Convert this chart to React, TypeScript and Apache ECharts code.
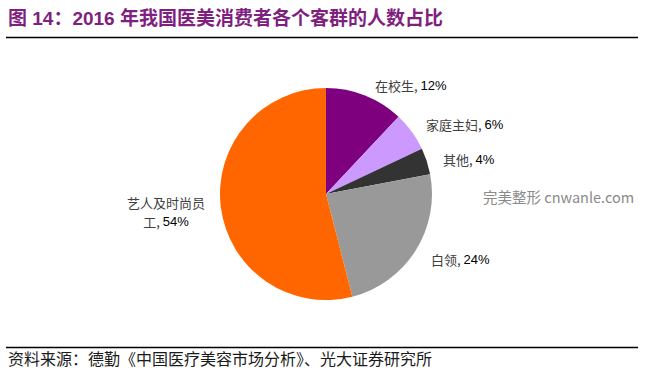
import React, { useEffect, useRef } from "react";
import * as echarts from "echarts";

const categories = ["在校生", "家庭主妇", "其他", "白领", "艺人及时尚员工"];
const values = [12, 6, 4, 24, 54];
const labelNames = ["在校生", "家庭主妇", "其他", "白领", "艺人及时尚员\n工"];
const colors = ["#7F007F", "#CC99FF", "#333333", "#999999", "#FF6600"];

const titleText = "图 14：2016 年我国医美消费者各个客群的人数占比";
const sourceText = "资料来源：德勤《中国医疗美容市场分析》、光大证券研究所";
const watermarkText = "完美整形 cnwanle.com";

// label placement (style, not data)
const labelPos: [number, number, string][] = [
  [375, 85, "left"],
  [426, 124, "left"],
  [443, 159, "left"],
  [431, 259, "left"],
  [166, 212, "center"],
];

export default function App() {
  const ref = useRef<HTMLDivElement>(null);
  useEffect(() => {
    document.body.style.margin = "0";
    const chart = echarts.init(ref.current!, null, { renderer: "svg" });
    const option: any = {
      animation: false,
      backgroundColor: "#ffffff",
      graphic: [
        {
          type: "text",
          left: 8,
          top: 9,
          style: {
            text: titleText,
            fill: "#7F1F7F",
            font: "bold 19px 'Liberation Sans', 'Noto Sans CJK SC'",
          },
        },
        {
          type: "line",
          shape: { x1: 6, y1: 37.5, x2: 638, y2: 37.5 },
          style: { stroke: "#000", lineWidth: 1.5 },
        },
        {
          type: "line",
          shape: { x1: 6, y1: 347.5, x2: 638, y2: 347.5 },
          style: { stroke: "#000", lineWidth: 1.5 },
        },
        {
          type: "text",
          left: 8,
          top: 350,
          style: {
            text: sourceText,
            fill: "#1a1a1a",
            font: "16px 'Noto Sans CJK SC'",
          },
        },
        {
          type: "text",
          left: 483,
          top: 189,
          style: {
            text: watermarkText,
            fill: "#8a8a8a",
            font: "14.5px 'Noto Sans CJK SC'",
          },
        },
      ],
      series: [
        {
          type: "pie",
          center: [326, 194],
          radius: 106,
          startAngle: 90,
          clockwise: true,
          silent: true,
          avoidLabelOverlap: false,
          emphasis: { disabled: true },
          labelLine: { show: false },
          label: {
            show: true,
            position: "outside",
            formatter: (p: any) => {
              const nm = labelNames[p.dataIndex];
              const parts = nm.split("\n");
              const last = parts.pop();
              const head = parts.map((s: string) => `{a|${s}}`).join("\n");
              const tail = `{a|${last}, }{b|${p.value}%}`;
              return head ? head + "\n" + tail : tail;
            },
            rich: {
              a: {
                fontFamily: "'Noto Sans CJK SC'",
                fontSize: 13,
                color: "#404040",
                lineHeight: 19,
              },
              b: {
                fontFamily: "'Liberation Sans'",
                fontSize: 13,
                color: "#000",
                lineHeight: 19,
              },
            },
          },
          labelLayout: (params: any) => {
            const lp = labelPos[params.dataIndex];
            return {
              x: lp[0],
              y: lp[1],
              align: lp[2],
              verticalAlign: "middle",
            };
          },
          data: categories.map((c, i) => ({
            name: c,
            value: values[i],
            itemStyle: { color: colors[i] },
          })),
        },
      ],
    };
    chart.setOption(option);
    return () => chart.dispose();
  }, []);
  return <div ref={ref} style={{ width: 660, height: 378 }} />;
}
